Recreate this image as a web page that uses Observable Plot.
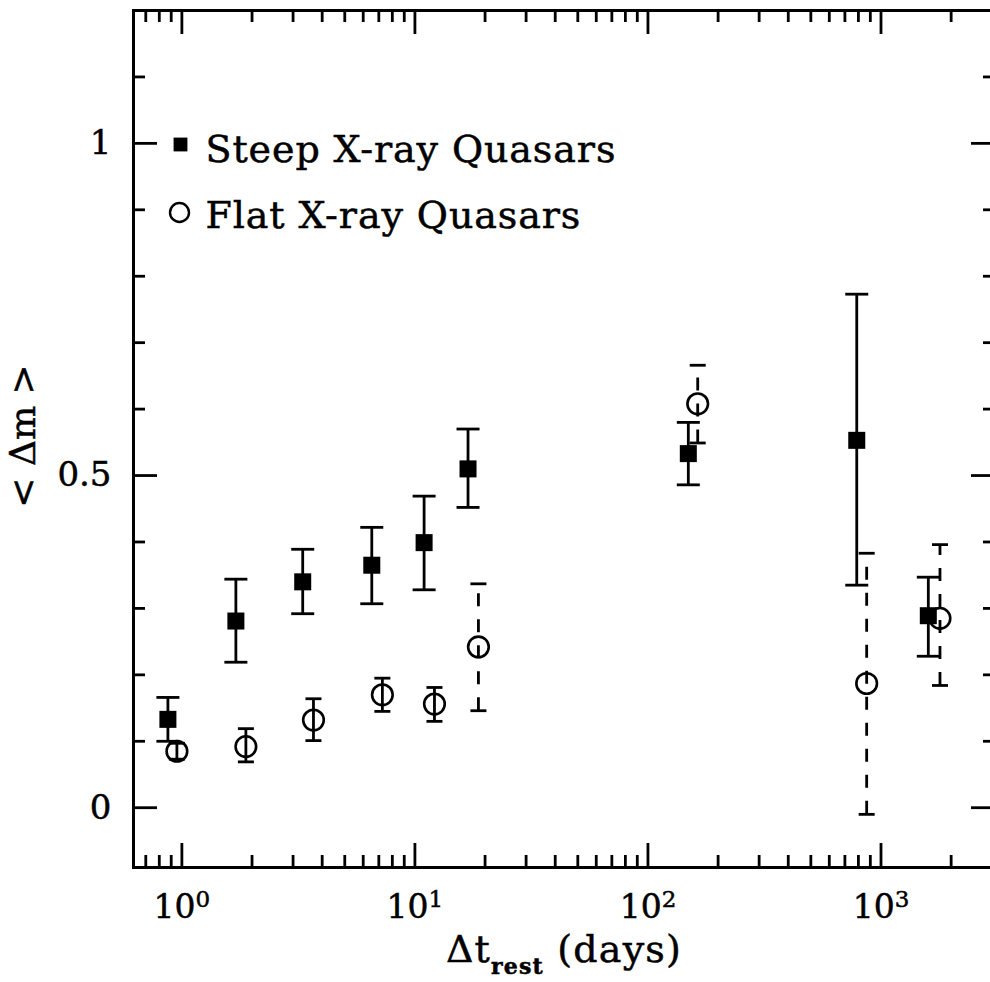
<!DOCTYPE html>
<html>
<head>
<meta charset="utf-8">
<script src="https://cdn.jsdelivr.net/npm/d3@7"></script>
<script src="https://cdn.jsdelivr.net/npm/@observablehq/plot@0.6"></script>
<style>
  html, body { margin: 0; padding: 0; background: #fff; overflow: hidden; }
  #chart svg { max-width: none !important; }
  #chart svg text { stroke: black; stroke-width: 0.5px; }
</style>
</head>
<body>
<div id="chart"></div>
<script>
// Mean magnitude difference versus rest-frame time lag
const steepT  = [0.871, 1.705, 3.30, 6.53, 10.95, 16.9, 149, 787, 1596];
const steepM  = [0.133, 0.281, 0.340, 0.365, 0.399, 0.510, 0.533, 0.553, 0.289];
const steepLo = [0.100, 0.219, 0.292, 0.307, 0.328, 0.452, 0.486, 0.335, 0.228];
const steepHi = [0.166, 0.344, 0.389, 0.422, 0.469, 0.570, 0.580, 0.773, 0.347];

const flatT  = [0.952, 1.882, 3.67, 7.25, 12.13, 18.73, 163.5, 868, 1791];
const flatM  = [0.085, 0.092, 0.132, 0.170, 0.156, 0.242, 0.608, 0.187, 0.285];
const flatLo = [0.073, 0.069, 0.101, 0.145, 0.130, 0.146, 0.549, -0.010, 0.184];
const flatHi = [0.097, 0.119, 0.164, 0.195, 0.181, 0.337, 0.666, 0.383, 0.396];
const flatDashed = [false, false, false, false, false, true, true, true, true];

const legendLabels = ["Steep X-ray Quasars", "Flat X-ray Quasars"];

const xMajor = [1, 10, 100, 1000];
const xMinor = [0.7, 0.8, 0.9, 2, 3, 4, 5, 6, 7, 8, 9, 20, 30, 40, 50, 60, 70, 80, 90,
                200, 300, 400, 500, 600, 700, 800, 900, 2000, 3000];
const yMajor = [0, 0.5, 1];
const yMinor = [0.1, 0.2, 0.3, 0.4, 0.6, 0.7, 0.8, 0.9, 1.1];

const steep = steepT.map((t, i) => ({t, m: steepM[i], lo: steepLo[i], hi: steepHi[i]}));
const flat = flatT.map((t, i) => ({t, m: flatM[i], lo: flatLo[i], hi: flatHi[i], dashed: flatDashed[i]}));

const W = 995, H = 982;
const mL = 133, mR = 0, mT = 10, mB = 115;
const fw = W - mL - mR, fh = H - mT - mB;

// horizontal cap drawn as a dot symbol
const cap = (w) => ({draw(ctx) { ctx.moveTo(-w / 2, 0); ctx.lineTo(w / 2, 0); }});

const sw = 2.8;
const supers = {0: "⁰", 1: "¹", 2: "²", 3: "³"};

const chart = Plot.plot({
  width: W,
  height: H,
  marginLeft: mL,
  marginRight: mR,
  marginTop: mT,
  marginBottom: mB,
  style: {fontFamily: "'DejaVu Serif', serif", fontSize: "32px", color: "black", background: "white"},
  x: {type: "log", domain: [0.62, 3100]},
  y: {domain: [-0.09, 1.2]},
  marks: [
    // inward ticks on all four sides
    Plot.tickX(xMajor, {x: d => d, insetTop: fh - 24, strokeWidth: sw}),
    Plot.tickX(xMinor, {x: d => d, insetTop: fh - 12, strokeWidth: sw}),
    Plot.tickX(xMajor, {x: d => d, insetBottom: fh - 24, strokeWidth: sw}),
    Plot.tickX(xMinor, {x: d => d, insetBottom: fh - 12, strokeWidth: sw}),
    Plot.tickY(yMajor, {y: d => d, insetRight: fw - 24, strokeWidth: sw}),
    Plot.tickY(yMinor, {y: d => d, insetRight: fw - 12, strokeWidth: sw}),
    Plot.tickY(yMajor, {y: d => d, insetLeft: fw - 24, strokeWidth: sw}),
    Plot.tickY(yMinor, {y: d => d, insetLeft: fw - 12, strokeWidth: sw}),
    Plot.frame({strokeWidth: 3}),
    // tick labels
    Plot.axisX(xMajor, {anchor: "bottom", tickSize: 0, tickPadding: 27, fontSize: 33,
      tickFormat: d => "10" + supers[Math.round(Math.log10(d))], label: null}),
    Plot.axisY(yMajor, {anchor: "left", tickSize: 0, tickPadding: 22, fontSize: 34,
      tickFormat: d => String(d), label: null}),
    // error bars
    Plot.ruleX(steep, {x: "t", y1: "lo", y2: "hi", strokeWidth: sw}),
    Plot.dot(steep, {x: "t", y: "lo", symbol: cap(23), stroke: "black", fill: "none", strokeWidth: sw}),
    Plot.dot(steep, {x: "t", y: "hi", symbol: cap(23), stroke: "black", fill: "none", strokeWidth: sw}),
    Plot.ruleX(flat.filter(d => !d.dashed), {x: "t", y1: "lo", y2: "hi", strokeWidth: sw}),
    Plot.ruleX(flat.filter(d => d.dashed), {x: "t", y1: "lo", y2: "hi", strokeWidth: sw, strokeDasharray: "13,13"}),
    Plot.dot(flat, {x: "t", y: "lo", symbol: cap(16), stroke: "black", fill: "none", strokeWidth: sw}),
    Plot.dot(flat, {x: "t", y: "hi", symbol: cap(16), stroke: "black", fill: "none", strokeWidth: sw}),
    // markers
    Plot.dot(steep, {x: "t", y: "m", symbol: "square", r: 9.6, fill: "black", stroke: "none"}),
    Plot.dot(flat, {x: "t", y: "m", r: 10.3, fill: "none", stroke: "black", strokeWidth: 2.6}),
    // legend
    Plot.dot([legendLabels[0]], {frameAnchor: "top-left", dx: 47, dy: 134, symbol: "square", r: 7.8, fill: "black", stroke: "none"}),
    Plot.dot([legendLabels[1]], {frameAnchor: "top-left", dx: 46, dy: 202, r: 9.5, fill: "none", stroke: "black", strokeWidth: 2.4}),
    Plot.text([legendLabels[0]], {frameAnchor: "top-left", text: d => d, dx: 72, dy: 125, textAnchor: "start", fontSize: 38}),
    Plot.text([legendLabels[1]], {frameAnchor: "top-left", text: d => d, dx: 72, dy: 191, textAnchor: "start", fontSize: 38}),
    // y-axis title
    Plot.text(["< Δm >"], {frameAnchor: "left", text: d => d, textAnchor: "middle", dx: -110, dy: -3, rotate: -90, fontSize: 36})
  ]
});

const svg = d3.select(chart);
svg.selectAll("text").filter(function () { return this.textContent.includes("Quasars"); })
  .attr("letter-spacing", "0.9px");

// full-size raised exponents on the decade labels
const supChars = Object.values(supers);
svg.selectAll("text").each(function () {
  const s = this.textContent;
  const last = s.slice(-1);
  const k = supChars.indexOf(last);
  if (s.startsWith("10") && k >= 0) {
    const t = d3.select(this);
    t.text(null);
    t.append("tspan").text("10");
    t.append("tspan").attr("dy", -11).attr("font-size", 23).text(String(k));
  }
});

// x-axis title with subscript
const xt = svg.append("text")
  .attr("x", mL + fw / 2)
  .attr("y", 962)
  .attr("text-anchor", "middle")
  .attr("font-size", 38)
  .attr("letter-spacing", "1.2px")
  .attr("fill", "black");
xt.append("tspan").text("Δt");
xt.append("tspan").attr("dy", 12).attr("font-size", 22).attr("font-weight", "bold").text("rest");
xt.append("tspan").attr("dy", -12).text(" (days)");

document.getElementById("chart").appendChild(chart);
</script>
</body>
</html>
